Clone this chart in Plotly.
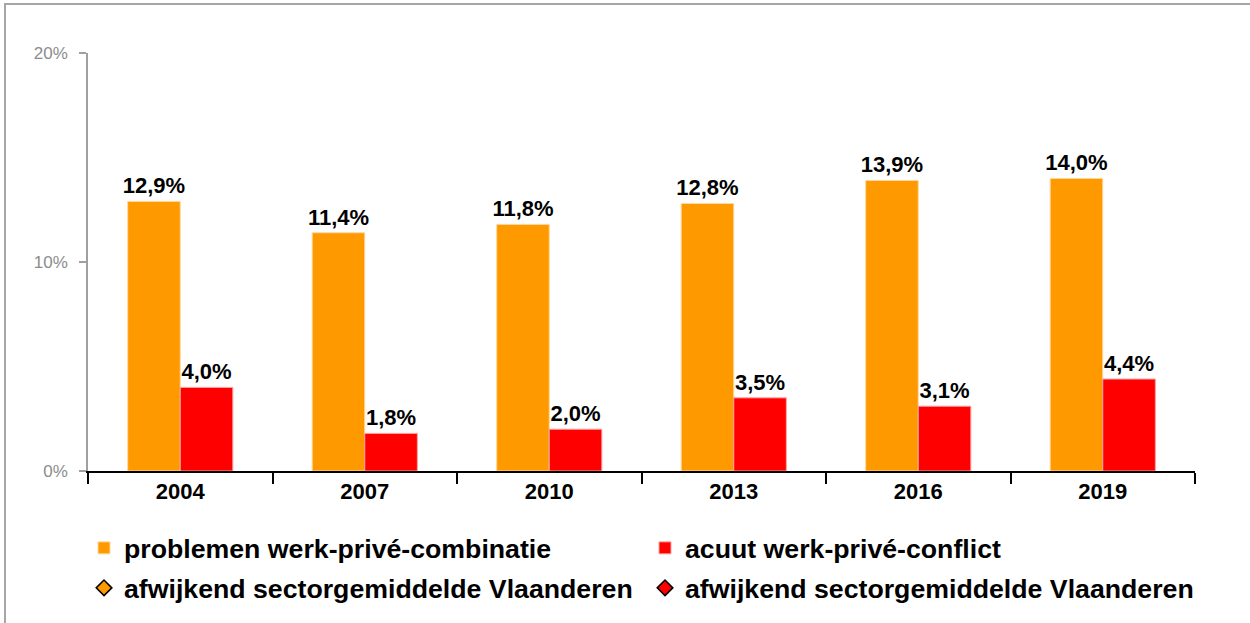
import plotly.graph_objects as go

years = ["2004", "2007", "2010", "2013", "2016", "2019"]
problemen = [12.9, 11.4, 11.8, 12.8, 13.9, 14.0]
acuut = [4.0, 1.8, 2.0, 3.5, 3.1, 4.4]
afwijkend_a = [None, None, None, None, None, None]
afwijkend_b = [None, None, None, None, None, None]
y_ticks = [0, 10, 20]
y_tick_labels = ["0%", "10%", "20%"]

name1 = "problemen werk-privé-combinatie"
name2 = "acuut werk-privé-conflict"
name3 = "afwijkend sectorgemiddelde Vlaanderen"

ORANGE = "#ff9900"
RED = "#ff0000"
FONT = "Liberation Sans, Arial, sans-serif"

label_font = dict(family=FONT, size=22, color="black", weight="bold")

fig = go.Figure()
fig.add_trace(go.Bar(
    x=years, y=problemen, name=name1, marker=dict(color=ORANGE, line=dict(color="#ffd9a0", width=1)),
    texttemplate="%{y:.1f}%", textposition="outside", cliponaxis=False,
    textfont=label_font, legend="legend"))
fig.add_trace(go.Bar(
    x=years, y=acuut, name=name2, marker=dict(color=RED, line=dict(color="#ffa0a0", width=1)),
    texttemplate="%{y:.1f}%", textposition="outside", cliponaxis=False,
    textfont=label_font, legend="legend2"))
fig.add_trace(go.Scatter(
    x=years, y=afwijkend_a, name=name3, mode="markers",
    marker=dict(symbol="diamond", color=ORANGE, size=12, line=dict(color="black", width=1.5)),
    legend="legend3"))
fig.add_trace(go.Scatter(
    x=years, y=afwijkend_b, name=name3, mode="markers",
    marker=dict(symbol="diamond", color=RED, size=12, line=dict(color="black", width=1.5)),
    legend="legend4"))

L, R, T, B = 88, 1195, 53, 472
W, H = 1250, 623
pw, ph = R - L, B - T

def px_x(x):
    return (x - L) / pw

def px_y(y):
    return (B - y) / ph

legend_font = dict(family=FONT, size=26.7, color="black", weight="bold")

def leg(x, y):
    return dict(orientation="h", x=px_x(x), xanchor="left", y=px_y(y), yanchor="middle",
                font=legend_font, bgcolor="rgba(0,0,0,0)", itemclick=False, itemdoubleclick=False)

fig.update_layout(
    width=W, height=H,
    margin=dict(l=L, r=W - R, t=T, b=H - B),
    paper_bgcolor="white", plot_bgcolor="white",
    separators=", ",
    barmode="group", bargap=0.43, bargroupgap=0,
    uniformtext=dict(minsize=22, mode="show"),
    font=dict(family=FONT),
    showlegend=True,
    legend=leg(84, 548),
    legend2=leg(645, 548),
    legend3=leg(84, 588),
    legend4=leg(645, 588),
    xaxis=dict(
        type="category", showline=True, linecolor="black", linewidth=1.5,
        ticks="outside", tickson="boundaries", ticklen=11, tickcolor="black", tickwidth=1.5,
        tickfont=dict(family=FONT, size=22, color="black", weight="bold"),
        showgrid=False, zeroline=False),
    yaxis=dict(
        range=[0, 20], tickvals=y_ticks, ticktext=y_tick_labels,
        showline=True, linecolor="#a0a0a0", linewidth=1.5,
        ticks="outside", ticklen=7, tickcolor="#a0a0a0", tickwidth=1.5,
        tickfont=dict(family=FONT, size=17, color="#8c8c8c"),
        ticklabelstandoff=8,
        showgrid=False, zeroline=False),
    shapes=[dict(type="rect", xref="paper", yref="paper",
                 x0=px_x(5), x1=px_x(1262), y0=px_y(640), y1=px_y(4),
                 line=dict(color="#a6a6a6", width=2), layer="below")],
)

fig.write_html("out.html", config=dict(displayModeBar=False),
               post_script="document.body.style.margin='0';document.body.style.overflow='hidden';")
